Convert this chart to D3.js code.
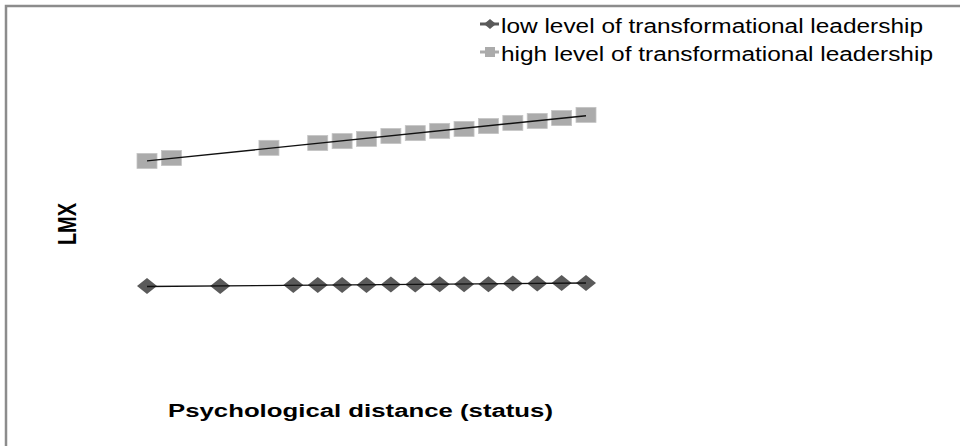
<!DOCTYPE html>
<html>
<head>
<meta charset="utf-8">
<script src="https://cdn.jsdelivr.net/npm/d3@7"></script>
<style>
  body { margin: 0; background: #fff; }
  svg { display: block; font-family: "Liberation Sans", Arial, sans-serif; }
</style>
</head>
<body>
<div id="chart"></div>
<script>
// psychological distance positions (category index) and LMX values
const lowX = [0, 3, 6, 7, 8, 9, 10, 11, 12, 13, 14, 15, 16, 17, 18];
const lowY = [3.56, 3.56, 3.59, 3.59, 3.59, 3.59, 3.61, 3.61, 3.62, 3.62, 3.62, 3.64, 3.64, 3.66, 3.66];
const highX = [0, 1, 5, 7, 8, 9, 10, 11, 12, 13, 14, 15, 16, 17, 18];
const highY = [7.47, 7.56, 7.88, 8.03, 8.09, 8.16, 8.25, 8.34, 8.41, 8.47, 8.56, 8.66, 8.72, 8.81, 8.91];
const seriesNames = ['low level of transformational leadership', 'high level of transformational leadership'];

const width = 960, height = 446;

const svg = d3.select('#chart')
  .append('svg')
  .attr('width', width)
  .attr('height', height);

//scales
const x = d3.scaleLinear().domain([0, 18]).range([147, 586]);
const y = d3.scaleLinear().domain([0, 10]).range([400, 80]);

//border (left and top only)
svg.append('path')
  .attr('d', `M6,${height} L6,6 L${width},6`)
  .attr('fill', 'none')
  .attr('stroke', '#8c8c8c')
  .attr('stroke-width', 2.5);

//least squares trend line
function trend(xs, ys) {
  const mx = d3.mean(xs), my = d3.mean(ys);
  const b = d3.sum(xs, (v, i) => (v - mx) * (ys[i] - my)) / d3.sum(xs, v => (v - mx) * (v - mx));
  const a = my - b * mx;
  const x0 = d3.min(xs), x1 = d3.max(xs);
  return [[x0, a + b * x0], [x1, a + b * x1]];
}

const line = d3.line().x(d => x(d[0])).y(d => y(d[1]));

const low = lowX.map((v, i) => [v, lowY[i]]);
const high = highX.map((v, i) => [v, highY[i]]);

//high series squares
svg.append('g').selectAll('rect')
  .data(high)
  .enter().append('rect')
  .attr('x', d => x(d[0]) - 10)
  .attr('y', d => y(d[1]) - 7.5)
  .attr('width', 20)
  .attr('height', 15)
  .attr('fill', '#ababab')
  .attr('stroke', '#c4c4c4')
  .attr('stroke-width', 0.8);

//low series diamonds
const diamond = 'M0,-8 L10,0 L0,8 L-10,0 Z';
svg.append('g').selectAll('path')
  .data(low)
  .enter().append('path')
  .attr('d', diamond)
  .attr('transform', d => `translate(${x(d[0])},${y(d[1])})`)
  .attr('fill', '#5a5a5a');

//trend lines
[low, high].forEach(s => {
  svg.append('path')
    .attr('d', line(trend(s.map(d => d[0]), s.map(d => d[1]))))
    .attr('fill', 'none')
    .attr('stroke', '#111')
    .attr('stroke-width', 1.4);
});

//legend (the original picture is stretched sideways, so text is widened)
const legend = svg.append('g').attr('transform', 'translate(480, 24)');
const legendWidths = [422, 432];
seriesNames.forEach((name, idx) => {
  const row = legend.append('g').attr('transform', `translate(0, ${idx * 28})`);
  row.append('line')
    .attr('x1', 0).attr('x2', 19)
    .attr('stroke', idx === 0 ? '#5a5a5a' : '#ababab')
    .attr('stroke-width', 3);
  if (idx === 0) {
    row.append('path').attr('d', 'M0,-5 L6,0 L0,5 L-6,0 Z')
      .attr('transform', 'translate(10,0)')
      .attr('fill', '#5a5a5a');
  } else {
    row.append('rect').attr('x', 5).attr('y', -5).attr('width', 10).attr('height', 10)
      .attr('fill', '#ababab');
  }
  row.append('text')
    .attr('x', 21).attr('y', 9)
    .attr('font-size', '20px')
    .attr('fill', '#000')
    .attr('textLength', legendWidths[idx])
    .attr('lengthAdjust', 'spacingAndGlyphs')
    .text(name);
});

//axis labels
svg.append('text')
  .attr('transform', 'translate(76, 224) scale(1.3, 1) rotate(-90)')
  .attr('text-anchor', 'middle')
  .attr('font-size', '20px')
  .attr('font-weight', 'bold')
  .text('LMX');

svg.append('text')
  .attr('x', 168)
  .attr('y', 417)
  .attr('font-size', '18px')
  .attr('font-weight', 'bold')
  .attr('textLength', 385)
  .attr('lengthAdjust', 'spacingAndGlyphs')
  .text('Psychological distance (status)');
</script>
</body>
</html>
